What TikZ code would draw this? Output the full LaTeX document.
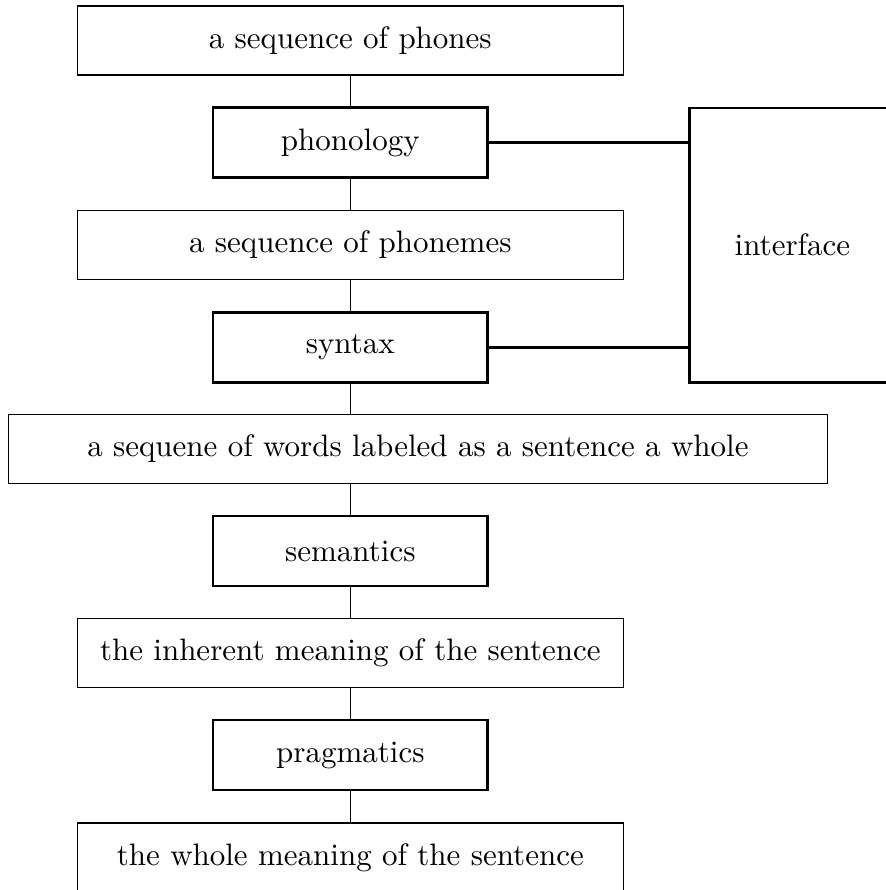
\documentclass[tikz,border=0pt]{standalone}
\usepackage{tikz}
\usetikzlibrary{positioning, calc}
\tikzset{
	level/.style={draw, minimum width=17.62em, minimum height=2.23em},
	module/.style={draw, thick, minimum width=8.86em, minimum height=2.26em},
}

\begin{document}
\begin{tikzpicture}
		\useasboundingbox (-11.3em,1.306em) rectangle (17.25em,-27.4em);
		
		\node[level]	(phones)		at	(0,0)			{a sequence of phones};
		\node[module]	(phonology)		at	(0,-3.29em)		{phonology};
		\node[level]	(phonemes)		at	(0,-6.59em)		{a sequence of phonemes};
		\node[module]	(syntax)		at	(0,-9.9em)		{syntax};
		\node[level, minimum width=26.4em]	(words)	at	(2.18em,-13.17em)	{a sequene of words labeled as a sentence a whole};
		\node[module]	(semantics)		at	(0,-16.47em)	{semantics};
		\node[level]	(inherent)		at	(0,-19.76em)	{the inherent meaning of the sentence};
		\node[module]	(pragmatics)	at	(0,-23.05em)	{pragmatics};
		\node[level]	(whole)			at	(0,-26.35em)	{the whole meaning of the sentence};
		
		\node[module, minimum width=6.65em, minimum height=8.86em]	(interface)	at	(14.26em,-6.6em)	{interface};
		
		\draw (phones)		-- (phonology);
		\draw (phonology)	-- (phonemes);
		\draw (phonemes)	-- (syntax);
		\draw (syntax)		-- (syntax |- words.north);
		\draw (words.south -| semantics) -- (semantics);
		\draw (semantics)	-- (inherent);
		\draw (inherent)	-- (pragmatics);
		\draw (pragmatics)	-- (whole);
		
		\draw[thick] (phonology)	-- (phonology -| interface.west);
		\draw[thick] (syntax)		-- (syntax -| interface.west);
	\end{tikzpicture}
\end{document}
